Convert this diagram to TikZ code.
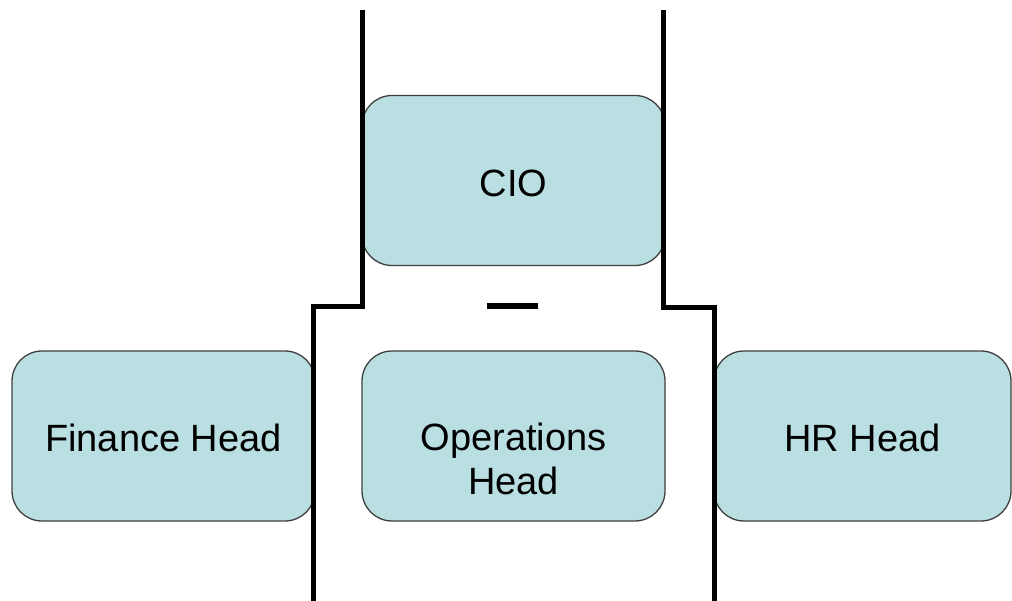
\documentclass[tikz,border=0pt]{standalone}
\usepackage{fontspec}
\setmainfont{Liberation Sans}
\begin{document}
\begin{tikzpicture}[x=1pt,y=-1pt,
  unit/.style={draw=black!75, line width=1.3pt, fill=boxfill, rounded corners=30pt,
    inner sep=0pt, minimum height=170pt, align=center,
    font=\fontsize{38}{44}\selectfont},
  rail/.style={line width=5pt, line join=miter},
]
\definecolor{boxfill}{HTML}{B9DFE3}
\useasboundingbox (0,0) rectangle (1012,601);
% boxes
\node[unit, minimum width=303pt] (cio) at (513.5,180.5) {};
\node[unit, minimum width=303pt] (fin) at (163.5,436) {};
\node[unit, minimum width=303pt] (ops) at (513.5,436) {};
\node[unit, minimum width=297pt] (hr)  at (862.5,436) {};
% labels
\node[font=\fontsize{38}{44}\selectfont] (ciot) at (513.5,183) {CIO};
\node[font=\fontsize{38}{44}\selectfont] (fint) at (163.5,438) {Finance Head};
\node[font=\fontsize{38}{44}\selectfont, align=center] (opst) at (513.5,459) {Operations\\Head};
\node[font=\fontsize{38}{44}\selectfont] (hrt) at (862.5,438) {HR Head};
% side rails
\coordinate (lt) at (362,10);
\coordinate (lm) at (362,307);
\coordinate (ln) at (313,307);
\coordinate (lb) at (313,601);
\coordinate (rt) at (663,10);
\coordinate (rm) at (663,308);
\coordinate (rn) at (714,308);
\coordinate (rb) at (714,601);
\draw[rail] (lt) -- (lm) -- (ln) -- (lb);
\draw[rail] (rt) -- (rm) -- (rn) -- (rb);
% short bar under CIO
\coordinate (da) at (487,306);
\coordinate (db) at (538,306);
\draw[line width=6.5pt] (da) -- (db);
\end{tikzpicture}
\end{document}
